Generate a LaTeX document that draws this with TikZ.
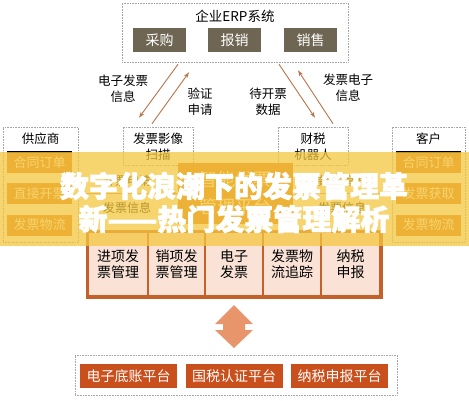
\documentclass[tikz,border=0pt]{standalone}
\usepackage{fontspec}
\setmainfont{Noto Sans CJK SC}
\newfontfamily\headfont[FakeBold=2.5]{Noto Sans CJK SC}
\usetikzlibrary{arrows.meta,calc}
\definecolor{erpbrown}{HTML}{6E6552}
\definecolor{colorange}{HTML}{D9731C}
\definecolor{headline}{HTML}{A8401A}
\definecolor{cellpink}{HTML}{FAE3D6}
\definecolor{cellline}{HTML}{C4612B}
\definecolor{platred}{HTML}{C9501C}
\definecolor{flowbrown}{HTML}{B8744A}
\definecolor{bigarrow}{HTML}{E8956B}
\definecolor{banner}{HTML}{F4C63E}

\begin{document}
\begin{tikzpicture}[x=1pt,y=-1pt,
    frame/.style={draw=black!35,densely dotted,line width=0.6pt},
    label/.style={font=\fontsize{12.5}{16}\selectfont,align=center,inner sep=0pt},
    erpbox/.style={fill=erpbrown,text=white,minimum width=53pt,minimum height=24pt,
      inner sep=0pt,font=\fontsize{14}{16}\selectfont},
    colbox/.style={fill=colorange,text=white,minimum width=65pt,minimum height=21pt,
      inner sep=0pt,font=\fontsize{13}{16}\selectfont},
    cell/.style={fill=cellpink,draw=cellline,line width=2pt,minimum height=64pt,
      inner sep=0pt,align=center,font=\fontsize{14}{16}\selectfont},
    platbox/.style={fill=platred,text=white,minimum width=97pt,minimum height=24pt,
      inner sep=0pt,font=\fontsize{14}{16}\selectfont},
    headline/.style={text=white,inner sep=0pt,font=\fontsize{29}{34}\headfont\bfseries},
    flow/.style={draw=flowbrown,line width=0.9pt,-{Stealth[length=6pt,width=4pt]}},
    sideflow/.style={draw=flowbrown!80,line width=0.6pt,
      {Stealth[length=5pt,width=4pt]}-{Stealth[length=5pt,width=4pt]}}]
  \useasboundingbox (0,0) rectangle (469,400);
  \fill[white] (0,0) rectangle (469,400);

  % ERP
  \node[frame,minimum width=226pt,minimum height=59pt] (erp) at (235,32.5) {};
  \node[label,font=\fontsize{13.5}{16}\selectfont] (erptitle) at (235,16) {企业ERP系统};
  \node[erpbox] (buy) at (159.5,40) {采购};
  \node[erpbox] (claim) at (234.5,40) {报销};
  \node[erpbox] (sell) at (310.5,40) {销售};

  % second row
  \node[frame,minimum width=75pt,minimum height=115pt] (supplier) at (40.5,184.5) {};
  \node[label] (suppliertitle) at (40.5,139) {供应商};
  \node[frame,minimum width=73pt,minimum height=115pt] (customer) at (428.5,184.5) {};
  \node[label] (customertitle) at (428.5,139) {客户};
  \node[frame,minimum width=70pt,minimum height=38pt] (scan) at (158,146) {};
  \node[label] (scantext) at (158,147) {发票影像\\扫描};
  \node[frame,minimum width=70pt,minimum height=38pt] (robot) at (313,146) {};
  \node[label] (robottext) at (313,147) {财税\\机器人};

  \node[colbox] (s1) at (39.5,162.5) {合同订单};
  \node[colbox] (s2) at (39.5,193.5) {直接开票};
  \node[colbox] (s3) at (39.5,225) {发票物流};
  \node[colbox] (c1) at (428.5,162.5) {合同订单};
  \node[colbox] (c2) at (428.5,193.5) {发票获取};
  \node[colbox] (c3) at (428.5,225) {发票物流};
  \draw[headline,line width=1.5pt] (s1.north west) -- (s1.north east);
  \draw[headline,line width=1.5pt] (c1.north west) -- (c1.north east);

  % flows between ERP and the row
  \draw[flow] ($(erp.south)+(-57,2)$) -- ($(scan.north)+(-19,-9)$);
  \draw[flow] ($(scan.north)+(-6,-3)$) -- ($(erp.south)+(-46,10)$);
  \draw[flow] ($(erp.south)+(44,2)$) -- ($(robot.north)+(2,-9)$);
  \draw[flow] ($(robot.north)+(20,-3)$) -- ($(erp.south)+(63,8)$);
  \node[label] (l1) at (123,89) {电子发票\\信息};
  \node[label] (l2) at (200,102) {验证\\申请};
  \node[label] (l3) at (268,102) {待开票\\数据};
  \node[label] (l4) at (348,88) {发票电子\\信息};

  % platform
  \node[fill=colorange,text=white,minimum width=115pt,minimum height=61pt,inner sep=0pt,
    align=center,font=\fontsize{18}{27}\selectfont] (platform) at (235.5,193.5) {智能发票\\管理平台};
  \draw[sideflow] (supplier.east |- platform) -- (platform.west);
  \draw[sideflow] (platform.east) -- (customer.west |- platform);
  \node[label,font=\fontsize{12}{14}\selectfont] (a1) at (127,181) {开票申请};
  \node[label,font=\fontsize{12}{14}\selectfont] (a2) at (127,208) {发票信息};
  \node[label,font=\fontsize{12}{14}\selectfont] (a3) at (342,181) {数据管理};
  \node[label,font=\fontsize{12}{14}\selectfont] (a4) at (342,208) {发票信息};

  % modules
  \node[cell,minimum width=60pt] (m1) at (118,264) {进项发\\票管理};
  \node[cell,minimum width=57pt] (m2) at (176.5,264) {销项发\\票管理};
  \node[cell,minimum width=58pt] (m3) at (234,264) {电子\\发票};
  \node[cell,minimum width=58pt] (m4) at (292,264) {发票物\\流追踪};
  \node[cell,minimum width=59pt] (m5) at (350.5,264) {纳税\\申报};
  \draw[cellline,line width=3pt] (m1.north west) rectangle (m5.south east);

  % double arrow
  \fill[bigarrow] (234,305) -- (253,324) -- (245,324) -- (245,330) -- (253,330) -- (234,348)
    -- (215,330) -- (223,330) -- (223,324) -- (215,324) -- cycle;

  % bottom platforms
  \node[frame,minimum width=322pt,minimum height=40pt] (gov) at (236,375) {};
  \node[platbox] (p1) at (128.5,376) {电子底账平台};
  \node[platbox] (p2) at (234,376) {国税认证平台};
  \node[platbox] (p3) at (339.5,376) {纳税申报平台};

  % banner
  \fill[banner,opacity=0.75] (0,152) rectangle (469,246);
  \node[headline] (head1) at (234,186) {数字化浪潮下的发票管理革};
  \node[headline] (head2) at (234,219) {新——热门发票管理解析};
\end{tikzpicture}
\end{document}
